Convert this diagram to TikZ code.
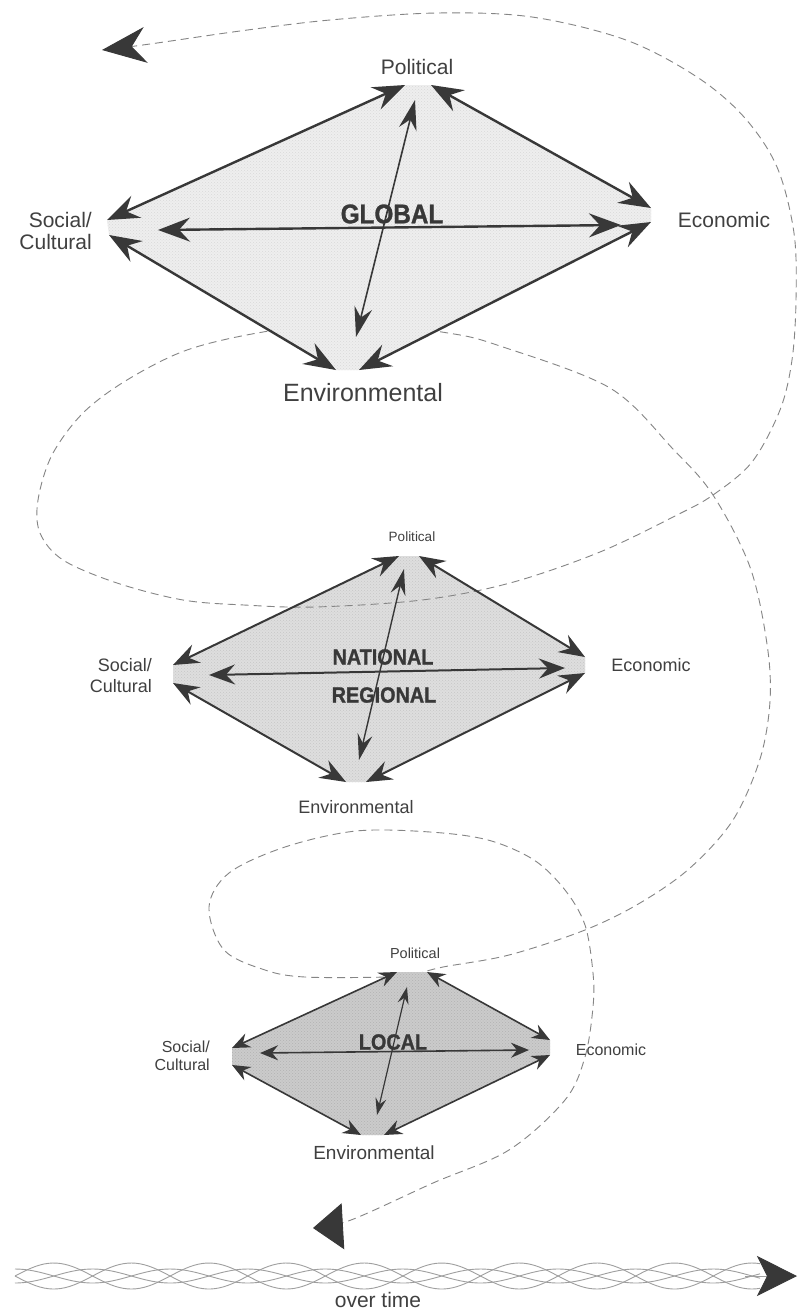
\documentclass[tikz,border=0pt]{standalone}
\usepackage{fontspec}
\setmainfont{Liberation Sans}
\newfontfamily\heavyfont[FakeBold=1.2, FakeStretch=0.9]{Liberation Sans}
\usetikzlibrary{arrows.meta, patterns}

\definecolor{ink}{HTML}{383838}
\definecolor{txt}{HTML}{404040}
\definecolor{spiralgray}{HTML}{858585}
\definecolor{fillG}{HTML}{EEEEEE}
\definecolor{fillN}{HTML}{DEDEDE}
\definecolor{fillL}{HTML}{CBCBCB}

\tikzset{
  lab/.style={inner sep=0pt, text=txt},
  glab/.style={lab, font=\fontsize{21}{22}\selectfont},
  nlab/.style={lab, font=\fontsize{18}{21}\selectfont},
  llab/.style={lab, font=\fontsize{16}{18}\selectfont},
  scopelab/.style={inner sep=0pt, text=ink, font=\heavyfont\bfseries\fontsize{#1}{#1}\selectfont},
  gfill/.style={fill=fillG, postaction={pattern=crosshatch dots, pattern color=gray!30}},
  nfill/.style={fill=fillN, postaction={pattern=crosshatch dots, pattern color=gray!45}},
  lfill/.style={fill=fillL, postaction={pattern=crosshatch dots, pattern color=gray!60}},
  gedge/.style={draw=ink, line width=2.4pt, {Stealth[length=32pt,width=24pt,inset=11pt]}-{Stealth[length=32pt,width=24pt,inset=11pt]}},
  gaxis/.style={draw=ink, line width=1.6pt, {Stealth[length=30pt,width=18pt,inset=10pt]}-{Stealth[length=30pt,width=18pt,inset=10pt]}},
  nedge/.style={draw=ink, line width=2pt, {Stealth[length=26pt,width=20pt,inset=9pt]}-{Stealth[length=26pt,width=20pt,inset=9pt]}},
  naxis/.style={draw=ink, line width=1.4pt, {Stealth[length=26pt,width=15pt,inset=9pt]}-{Stealth[length=26pt,width=15pt,inset=9pt]}},
  ledge/.style={draw=ink, line width=1.6pt, {Stealth[length=18pt,width=15pt,inset=6pt]}-{Stealth[length=18pt,width=15pt,inset=6pt]}},
  laxis/.style={draw=ink, line width=1.2pt, {Stealth[length=17pt,width=11pt,inset=6pt]}-{Stealth[length=17pt,width=11pt,inset=6pt]}},
  spiral/.style={draw=spiralgray, line width=0.9pt, dash pattern=on 8pt off 5pt,
    {Stealth[length=44pt,width=36pt,inset=14pt,color=ink]}-{Stealth[length=30pt,width=46pt,inset=0pt,color=ink]}},
  strand/.style={draw=gray!75, line width=0.9pt},
}

\begin{document}
\begin{tikzpicture}[x=1pt, y=-1pt]
\useasboundingbox (0,0) rectangle (798,1312);
\fill[white] (0,0) rectangle (798,1312);

% national / regional level, its fill lies under the spiral
\coordinate (nT1) at (399,556);
\coordinate (nT2) at (419,556);
\coordinate (nTv) at (404,569);
\coordinate (nL1) at (173,665);
\coordinate (nL2) at (173,683);
\coordinate (nLh) at (209,675);
\coordinate (nR1) at (585,657);
\coordinate (nR2) at (585,673);
\coordinate (nRh) at (565,668);
\coordinate (nB1) at (346,782);
\coordinate (nB2) at (366,782);
\coordinate (nBv) at (359,760);
\path[nfill] (nT1) -- (nT2) -- (nR1) -- (nR2) -- (nB2) -- (nB1) -- (nL2) -- (nL1) -- cycle;

% the spiral through the three levels
\coordinate (spiralTop) at (102,50);
\coordinate (spiralEnd) at (313,1228);
\draw[spiral] plot[smooth, tension=0.55] coordinates {(spiralTop) (150,44) (240,31) (330,20) (437,13)
  (532,17) (626,40) (697,77) (744,117) (777,167) (794,233) (796,300) (792,360) (780,410) (752,462)
  (713,495) (677,515) (600,552) (510,583) (422,600) (315,607) (244,605) (183,600) (117,583) (63,560)
  (40,533) (38,500) (52,455) (83,413) (127,380) (187,350) (263,332) (350,322) (448,333) (500,346)
  (610,388) (673,449) (713,495) (750,567) (767,644) (770,701) (760,759) (733,820) (690,868) (640,903)
  (585,930) (509,955) (443,967) (415,974) (387,977) (305,977) (265,970) (224,950) (209,907) (229,873)
  (285,847) (356,831) (430,832) (488,840) (534,860) (565,890) (585,925) (593,973) (593,1007)
  (585,1057) (565,1100) (509,1150) (433,1183) (351,1220) (spiralEnd)};

\foreach \a/\b in {L1/T1, T2/R1, L2/B1, R2/B2, Lh/Rh}
  \draw[nedge] (n\a) -- (n\b);
\draw[naxis] (nTv) -- (nBv);
\node[nlab, font=\fontsize{13.5}{14}\selectfont] (nPol) at (412,537) {Political};
\node[nlab, align=right, anchor=east] (nSoc) at (152,676) {Social/\\Cultural};
\node[nlab] (nEco) at (651,665) {Economic};
\node[nlab] (nEnv) at (356,807) {Environmental};
\node[scopelab=22] (nNat) at (383,657) {NATIONAL};
\node[scopelab=22] (nReg) at (384,695) {REGIONAL};

% global level
\coordinate (gT1) at (405,85);
\coordinate (gT2) at (431,85);
\coordinate (gTv) at (415,100);
\coordinate (gL1) at (107,220);
\coordinate (gL2) at (109,235);
\coordinate (gLh) at (158,230);
\coordinate (gR1) at (651,208);
\coordinate (gR2) at (651,222);
\coordinate (gRh) at (621,225);
\coordinate (gB1) at (336,370);
\coordinate (gB2) at (359,370);
\coordinate (gBv) at (356,337);
\path[gfill] (gT1) -- (gT2) -- (gR1) -- (gR2) -- (gB2) -- (gB1) -- (gL2) -- (gL1) -- cycle;
\foreach \a/\b in {L1/T1, T2/R1, L2/B1, R2/B2, Lh/Rh}
  \draw[gedge] (g\a) -- (g\b);
\draw[gaxis] (gTv) -- (gBv);
\node[glab] (gPol) at (417,67) {Political};
\node[glab, align=right, anchor=east] (gSoc) at (92,231) {Social/\\Cultural};
\node[glab] (gEco) at (724,220) {Economic};
\node[glab, font=\fontsize{25}{26}\selectfont] (gEnv) at (363,393) {Environmental};
\node[scopelab=27] (gGlo) at (392,214) {GLOBAL};

% local level
\coordinate (lT1) at (397,972);
\coordinate (lT2) at (427,972);
\coordinate (lTv) at (407,987);
\coordinate (lL1) at (232,1048);
\coordinate (lL2) at (232,1065);
\coordinate (lLh) at (260,1053);
\coordinate (lR1) at (550,1040);
\coordinate (lR2) at (550,1055);
\coordinate (lRh) at (529,1050);
\coordinate (lB1) at (361,1135);
\coordinate (lB2) at (384,1135);
\coordinate (lBv) at (377,1115);
\path[lfill] (lT1) -- (lT2) -- (lR1) -- (lR2) -- (lB2) -- (lB1) -- (lL2) -- (lL1) -- cycle;
\foreach \a/\b in {L1/T1, T2/R1, L2/B1, R2/B2, Lh/Rh}
  \draw[ledge] (l\a) -- (l\b);
\draw[laxis] (lTv) -- (lBv);
\node[llab, font=\fontsize{14.5}{15}\selectfont] (lPol) at (415,953) {Political};
\node[llab, align=right, anchor=east] (lSoc) at (210,1056) {Social/\\Cultural};
\node[llab] (lEco) at (611,1050) {Economic};
\node[llab, font=\fontsize{19}{20}\selectfont] (lEnv) at (374,1153) {Environmental};
\node[scopelab=22] (lLoc) at (393,1042) {LOCAL};

% time rope
\coordinate (timeTail) at (745,1276);
\coordinate (timeEnd) at (797,1276);
\foreach \ph/\amp in {0/13, 180/13, 90/7, 270/7}
  \draw[strand] plot[domain=15:760, samples=180] (\x, {1276 + \amp*sin((\x-15)*2.32 + \ph)});
\draw[draw=gray!75, line width=0.9pt, -{Stealth[length=40pt,width=40pt,inset=10pt,color=ink]}] (timeTail) -- (timeEnd);
\node[lab, font=\fontsize{21}{22}\selectfont] (overTime) at (378,1300) {over time};
\end{tikzpicture}
\end{document}
